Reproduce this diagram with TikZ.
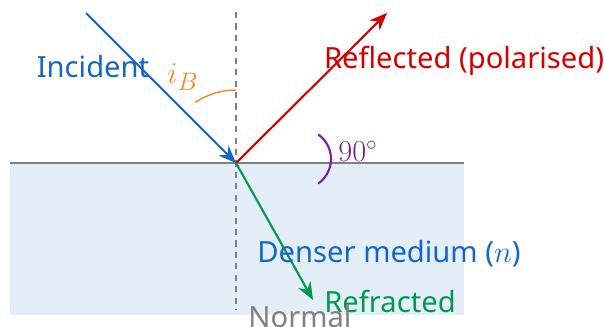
\documentclass[tikz,border=0pt]{standalone}
\usepackage{xcolor}
\usepackage{tikz}
\usetikzlibrary{arrows.meta}
\usepackage{amsmath}
\usepackage{fontspec}
\setmainfont{Noto Sans}
\definecolor{brwblue}{HTML}{1466cc}
\definecolor{brwred}{HTML}{d40000}
\definecolor{brwgreen}{HTML}{00994d}
\definecolor{brworange}{HTML}{f08a1c}
\definecolor{brwpurple}{HTML}{7a1fa2}
\definecolor{brwmedium}{HTML}{e4eef8}

\begin{document}
\begin{tikzpicture}[x=0.02cm,y=0.02cm,
  ray/.style={line width=1.2pt,-{Stealth[length=10pt,width=8pt]}},
  lbl/.style={font=\fontsize{16.6}{19}\selectfont,inner sep=0pt}]
  \useasboundingbox (0,0) rectangle (604,326);
  \fill[brwmedium] (10,11) rectangle (464,163);
  \draw[gray,line width=0.6pt] (10,163) -- (464,163);
  \coordinate (O) at (236,163);
  \coordinate (normtop) at (236,314);
  \coordinate (normbot) at (236,16);
  \coordinate (inc) at (86,313);
  \coordinate (refl) at (387,313);
  \coordinate (refr) at (313,26);
  \draw[gray,dash pattern=on 3.5pt off 3pt,line width=0.6pt] (normtop) -- (normbot);
  \draw[ray,brwblue] (inc) -- (O);
  \draw[ray,brwred] (O) -- (refl);
  \draw[ray,brwgreen] (O) -- (refr);
  % angles
  \draw[brworange,line width=0.8pt] (236,236) arc[start angle=90,end angle=124,radius=73];
  \draw[brwpurple,line width=1.2pt] (301,167) ++(55:30) arc[start angle=55,end angle=-55,radius=30];
  % labels
  \node[lbl,brwblue] (inclbl) at (93,259) {Incident};
  \node[lbl,brwred] (refllbl) at (464,265) {Reflected (polarised)};
  \node[lbl,brwgreen] (refrlbl) at (390,25) {Refracted};
  \node[lbl,brwblue] (medlbl) at (389,72) {Denser medium ($n$)};
  \node[lbl,brworange,font=\fontsize{19}{22}\selectfont] (iblbl) at (183,249) {$i_B$};
  \node[lbl,brwpurple,font=\fontsize{18}{21}\selectfont] (rtlbl) at (358,175) {$90^\circ$};
  \node[lbl,gray,anchor=north] (normlbl) at (300,21) {Normal};
\end{tikzpicture}
\end{document}
